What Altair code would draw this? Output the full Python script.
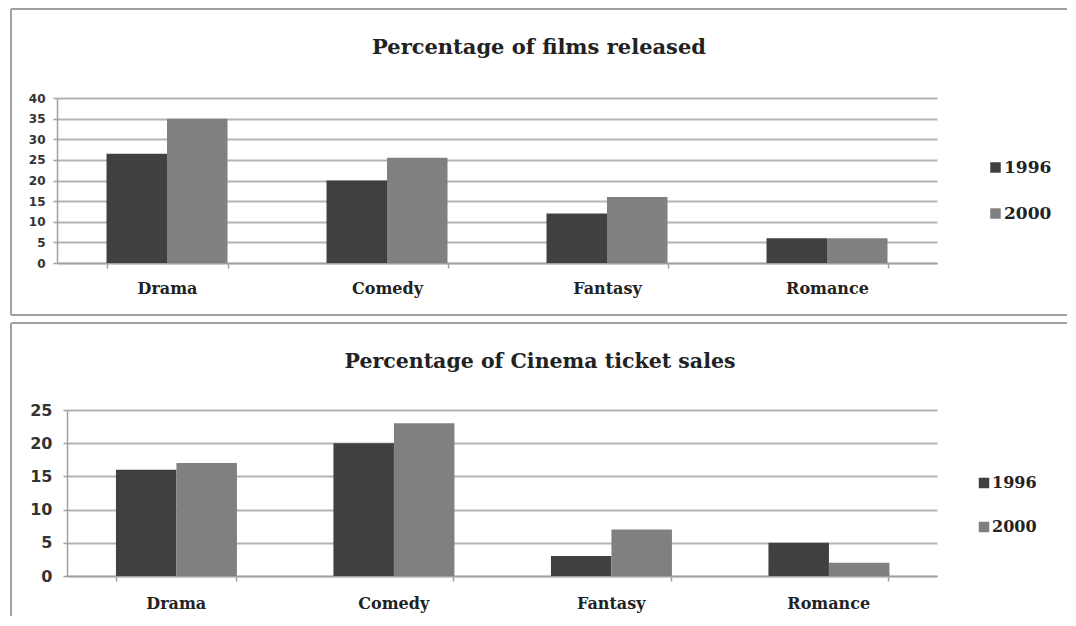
import altair as alt
import pandas as pd

categories = ["Drama", "Comedy", "Fantasy", "Romance"]
years = ["1996", "2000"]
films_1996 = [26.5, 20, 12, 6]
films_2000 = [35, 25.5, 16, 6]
tickets_1996 = [16, 20, 3, 5]
tickets_2000 = [17, 23, 7, 2]
films_ticks = [0, 5, 10, 15, 20, 25, 30, 35, 40]
tickets_ticks = [0, 5, 10, 15, 20, 25]
title_films = "Percentage of films released"
title_tickets = "Percentage of Cinema ticket sales"
colors = ["#404040", "#808080"]

SERIF = "DejaVu Serif"
SANS = "DejaVu Sans"
FRAME = "#a0a0a0"
GRID = "#b4b4b4"


def table(v96, v00):
    rows = []
    for c, a, b in zip(categories, v96, v00):
        rows.append({"cat": c, "year": years[0], "value": a})
        rows.append({"cat": c, "year": years[1], "value": b})
    return pd.DataFrame(rows)


def panel(df, ymax, ticks, ylab_size, ylab_pad, xlab_size, xlab_pad,
          legend_x, legend_y, legend_size, frame, title_text, title_x, title_y,
          title_size, bottom_line, x_start, width):
    color = alt.Color(
        "year:N",
        scale=alt.Scale(domain=years, range=colors),
        legend=alt.Legend(
            title=None, orient="none", legendX=legend_x, legendY=legend_y,
            symbolType="square", symbolSize=110, symbolStrokeWidth=0,
            labelFont=SERIF, labelFontWeight="bold", labelFontSize=legend_size,
            labelColor="#222222", rowPadding=28, labelOffset=0, padding=0,
        ),
    )
    bars = alt.Chart(df).mark_bar().encode(
        x=alt.X(
            "cat:N", sort=categories,
            scale=alt.Scale(paddingInner=0.45, paddingOuter=0.225,
                            range=[x_start, width]),
            axis=alt.Axis(
                title=None, labelAngle=0, labelFont=SERIF, labelFontWeight="bold",
                labelFontSize=xlab_size, labelColor="#222222", labelPadding=xlab_pad,
                tickBand="extent", grid=False, domainColor=FRAME, domainWidth=1.5,
                tickColor=FRAME, tickSize=5, tickWidth=1.5,
            ),
        ),
        xOffset=alt.XOffset("year:N", sort=years),
        y=alt.Y(
            "value:Q", scale=alt.Scale(domain=[0, ymax], nice=False),
            axis=alt.Axis(
                title=None, values=ticks, grid=True, gridColor=GRID, gridWidth=1.8,
                labelFont=SANS, labelFontWeight="bold", labelFontSize=ylab_size,
                labelColor="#333333", labelPadding=ylab_pad, offset=-x_start,
                domainColor=FRAME, domainWidth=1.5, tickColor=FRAME, tickSize=4,
                tickWidth=1.5,
            ),
        ),
        color=color,
    )
    one = pd.DataFrame({"k": [0]})
    left, right, top, bottom = frame
    layers = [
        alt.Chart(one).mark_rule(color=FRAME, strokeWidth=2).encode(
            x=alt.value(left), x2=alt.value(right), y=alt.value(top)),
        alt.Chart(one).mark_rule(color=FRAME, strokeWidth=2).encode(
            x=alt.value(left), y=alt.value(top), y2=alt.value(bottom)),
    ]
    if bottom_line:
        layers.append(
            alt.Chart(one).mark_rule(color=FRAME, strokeWidth=2).encode(
                x=alt.value(left), x2=alt.value(right), y=alt.value(bottom)))
    title = alt.Chart(pd.DataFrame({"t": [title_text]})).mark_text(
        font=SERIF, fontWeight="bold", fontSize=title_size, color="#222222",
        align="center", baseline="middle",
    ).encode(text="t:N", x=alt.value(title_x), y=alt.value(title_y))
    return alt.layer(bars, *layers, title).properties(width=width)


# both panels share a plot origin at page x=66; the top panel's band range
# starts 10px to the left of it, as in the original
top = panel(
    table(films_1996, films_2000), 40, films_ticks,
    ylab_size=12, ylab_pad=8, xlab_size=16, xlab_pad=12,
    legend_x=920, legend_y=61, legend_size=17, frame=(-56, 1000, -89, 217),
    title_text=title_films, title_x=472, title_y=-50, title_size=21,
    bottom_line=True, x_start=-10, width=870,
).properties(height=165)

bottom = panel(
    table(tickets_1996, tickets_2000), 25, tickets_ticks,
    ylab_size=16, ylab_pad=11, xlab_size=16, xlab_pad=14,
    legend_x=909, legend_y=65, legend_size=16, frame=(-56, 1000, -87, 206),
    title_text=title_tickets, title_x=473, title_y=-48, title_size=20.5,
    bottom_line=False, x_start=0, width=870,
).properties(height=166)

chart = alt.vconcat(top, bottom, spacing=6).resolve_scale(
    color="independent").resolve_legend(color="independent").properties(
    padding={"left": 2, "top": 0, "right": 0, "bottom": 0},
    background="white",
).configure_view(stroke=None)

chart.save("out.html", embed_options={"renderer": "svg", "actions": False})
